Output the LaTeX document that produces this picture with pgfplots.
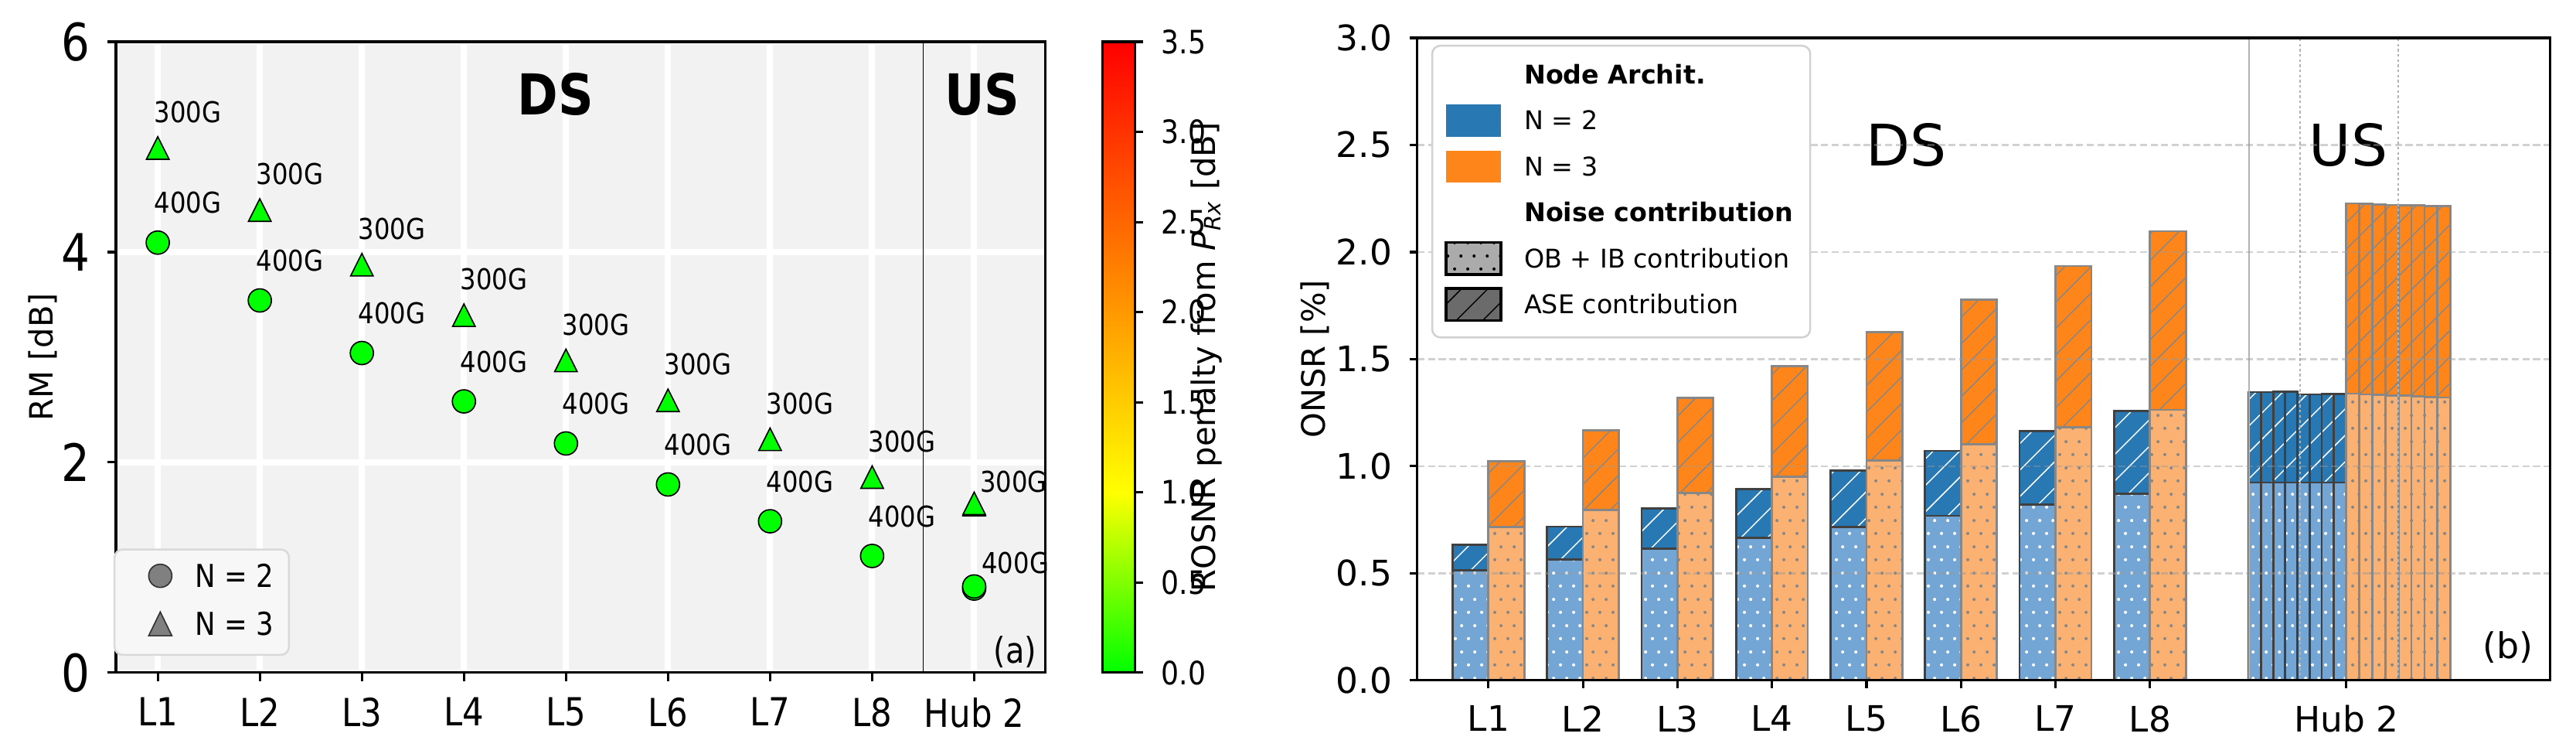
\documentclass[border=0pt]{standalone}
\usepackage{fontspec}
\setmainfont{DejaVu Sans}
\newfontfamily\cond[FakeStretch=0.87]{DejaVu Sans}
\usepackage{pgfplots}
\pgfplotsset{compat=1.18}
\usetikzlibrary{patterns,patterns.meta}

\definecolor{tabblue}{HTML}{2878B4}
\definecolor{lightblue}{HTML}{73A6D4}
\definecolor{taborange}{HTML}{FD851A}
\definecolor{lightorange}{HTML}{FBB171}
\definecolor{blueedge}{HTML}{404040}
\definecolor{orangeedge}{HTML}{878787}
\definecolor{bggray}{HTML}{F2F2F2}
\definecolor{mkgreen}{HTML}{00FF00}

\pgfdeclarepatternformonly{hdots}{\pgfqpoint{0pt}{0pt}}{\pgfqpoint{4.1pt}{8.2pt}}{\pgfqpoint{4.1pt}{8.2pt}}{%
  \pgfpathcircle{\pgfqpoint{1.025pt}{1.025pt}}{0.5pt}%
  \pgfpathcircle{\pgfqpoint{3.075pt}{5.125pt}}{0.5pt}%
  \pgfusepath{fill}}

\pgfplotsset{
  barbase/.style={ybar, bar shift=0pt, forget plot, line width=0.65pt},
  bluetop/.style={barbase, draw=blueedge, preaction={fill=tabblue}, pattern={Lines[angle=45,distance=5.8pt,line width=0.35pt]}, pattern color=white},
  bluelow/.style={barbase, draw=blueedge, preaction={fill=lightblue}, pattern=hdots, pattern color=white},
  orangetop/.style={barbase, draw=orangeedge, preaction={fill=taborange}, pattern={Lines[angle=45,distance=5.8pt,line width=0.35pt]}, pattern color=orangeedge},
  orangelow/.style={barbase, draw=orangeedge, preaction={fill=lightorange}, pattern=hdots, pattern color=orangeedge},
}

\begin{document}
\begin{tikzpicture}
\useasboundingbox (0,0) rectangle (800pt,231.84pt);

% ---------------- (a) ----------------
\begin{axis}[
  at={(36pt,23.04pt)}, anchor=south west,
  scale only axis, width=288.72pt, height=195.84pt,
  xmin=-0.41, xmax=8.70, ymin=0, ymax=6,
  xtick={0,1,2,3,4,5,6,7,8},
  xticklabels={L1,L2,L3,L4,L5,L6,L7,L8,Hub 2},
  ytick={0,2,4,6},
  axis background/.style={fill=bggray},
  grid=major, grid style={white, line width=1.9pt},
  axis line style={line width=0.75pt},
  tick align=outside, tick pos=left, major tick length=2.6pt,
  every tick/.style={black, line width=0.75pt},
  /pgf/number format/assume math mode=true,
  xticklabel style={font=\cond\fontsize{12}{12}\selectfont, inner sep=0pt, anchor=north, yshift=-5pt},
  yticklabel style={font=\cond\fontsize{16}{16}\selectfont, inner sep=0pt, anchor=east, xshift=-5.3pt},
  ylabel={RM [dB]},
  ylabel style={font=\cond\fontsize{13}{13}\selectfont},
  every axis y label/.style={at={(axis description cs:-0.079,0.5)}, anchor=center, rotate=90},
  colormap={gyr}{rgb255(0pt)=(0,255,0); rgb255(10pt)=(255,255,0); rgb255(35pt)=(255,0,0)},
  point meta min=0, point meta max=3.5,
  colorbar,
  colorbar style={
    at={(parent axis.north east)}, anchor=north west, xshift=9.22pt,
    scale only axis, width=10pt, height=195.84pt,
    ytick={0,0.5,1,1.5,2,2.5,3,3.5},
    ytick pos=right, tick align=outside, major tick length=2.4pt,
    axis line style={line width=0.75pt},
    every tick/.style={black, line width=0.75pt},
    yticklabel style={font=\cond\fontsize{10}{10}\selectfont, inner sep=0pt, anchor=west, xshift=5.6pt,
      /pgf/number format/.cd, fixed, fixed zerofill, precision=1, assume math mode=true},
    ylabel={ROSNR penalty from \textit{P}\textsubscript{\textit{Rx}} [dB]},
    ylabel style={font=\cond\fontsize{9.5}{9.5}\selectfont},
    every axis y label/.style={at={(axis description cs:3.22,0.5)}, anchor=center, rotate=90},
  },
  legend style={at={(axis description cs:-0.0025,0.0267)}, anchor=south west,
    draw=black!15, line width=0.6pt, fill=white!97!black, rounded corners=2.5pt,
    inner sep=0pt, nodes={inner sep=0pt},
    font=\cond\fontsize{9.8}{9.8}\selectfont, row sep=-2.9pt,
    /tikz/every odd column/.append style={column sep=0pt}},
  legend cell align=left,
]
\addlegendimage{legend image code/.code={%
  \path[draw=none,fill=none] (0pt,-8.9pt) rectangle (25pt,8.9pt);
  \filldraw[fill=black!50, draw=black!80, line width=0.4pt] (14.2pt,0.73pt) circle[radius=3.6pt];}}
\addlegendentry{N = 2\rule{4.8pt}{0pt}}
\addlegendimage{legend image code/.code={%
  \path[draw=none,fill=none] (0pt,-8.9pt) rectangle (25pt,8.9pt);
  \filldraw[fill=black!50, draw=black!80, line width=0.4pt, sharp corners] (10.6pt,-2.97pt) -- (17.8pt,-2.97pt) -- (14.2pt,4.43pt) -- cycle;}}
\addlegendentry{N = 3\rule{4.8pt}{0pt}}

% DS / US separator
\addplot[forget plot, black, line width=0.3pt] coordinates {(7.5,0) (7.5,6)};

% N = 2 (circles, 400G)
\addplot[forget plot, only marks, mark=*, mark size=3.6pt,
  mark options={fill=mkgreen, draw=black, line width=0.4pt},
  nodes near coords={400G},
  every node near coord/.append style={anchor=west, inner sep=0pt, xshift=-1.3pt, yshift=12.3pt, text=black, font=\cond\fontsize{8.9}{8.9}\selectfont}]
  coordinates {(0,4.09) (1,3.54) (2,3.04) (3,2.58) (4,2.18) (5,1.79) (6,1.44) (7,1.11)};
\addplot[forget plot, only marks, mark=*, mark size=3.6pt,
  mark options={fill=mkgreen, draw=black, line width=0.4pt}]
  coordinates {(8,0.80)};
\addplot[forget plot, only marks, mark=*, mark size=3.6pt,
  mark options={fill=mkgreen, draw=black, line width=0.4pt},
  nodes near coords={400G},
  every node near coord/.append style={anchor=west, inner sep=0pt, xshift=2.2pt, yshift=7.2pt, text=black, font=\cond\fontsize{8.9}{8.9}\selectfont}]
  coordinates {(8,0.82)};

% N = 3 (triangles, 300G)
\addplot[forget plot, only marks, mark=triangle*, mark size=4.04pt,
  mark options={fill=mkgreen, draw=black, line width=0.4pt, yshift=-1.17pt, yscale=1.155},
  nodes near coords={300G},
  every node near coord/.append style={anchor=west, inner sep=0pt, xshift=-1.3pt, yshift=12.3pt, text=black, font=\cond\fontsize{8.9}{8.9}\selectfont}]
  coordinates {(0,4.99) (1,4.40) (2,3.88) (3,3.40) (4,2.97) (5,2.59) (6,2.22) (7,1.86)};
\addplot[forget plot, only marks, mark=triangle*, mark size=4.04pt,
  mark options={fill=mkgreen, draw=black, line width=0.4pt, yshift=-1.17pt, yscale=1.155}]
  coordinates {(8,1.60)};
\addplot[forget plot, only marks, mark=triangle*, mark size=4.04pt,
  mark options={fill=mkgreen, draw=black, line width=0.4pt, yshift=-1.17pt, yscale=1.155},
  nodes near coords={300G},
  every node near coord/.append style={anchor=west, inner sep=0pt, xshift=1.7pt, yshift=7.9pt, text=black, font=\cond\fontsize{8.9}{8.9}\selectfont}]
  coordinates {(8,1.61)};

\node[font=\cond\bfseries\fontsize{17.5}{17.5}\selectfont] at (axis cs:3.9,5.5) {DS};
\node[font=\cond\bfseries\fontsize{17.5}{17.5}\selectfont] at (axis cs:8.08,5.5) {US};
\node[font=\cond\fontsize{11}{11}\selectfont] at (axis cs:8.40,0.2) {(a)};
\end{axis}

% ---------------- (b) ----------------
\begin{axis}[
  at={(440.16pt,20.64pt)}, anchor=south west,
  scale only axis, width=351.84pt, height=199.44pt,
  xmin=-0.752, xmax=11.235, ymin=0, ymax=3,
  xtick={0,1,2,3,4,5,6,7,9.076},
  xticklabels={L1,L2,L3,L4,L5,L6,L7,L8,Hub 2},
  ytick={0,0.5,1,1.5,2,2.5,3},
  ymajorgrids,
  grid style={color=black!40, opacity=0.45, line width=0.55pt, dash pattern=on 2.2pt off 1.1pt},
  axis on top,
  axis line style={line width=0.75pt},
  tick align=outside, tick pos=left, major tick length=2.4pt,
  every tick/.style={black, line width=0.75pt},
  /pgf/number format/assume math mode=true,
  xticklabel style={font=\fontsize{10.9}{10.9}\selectfont, inner sep=0pt, anchor=north, yshift=-5.2pt},
  yticklabel style={font=\fontsize{10.9}{10.9}\selectfont, inner sep=0pt, anchor=east, xshift=-5.3pt,
    /pgf/number format/.cd, fixed, fixed zerofill, precision=1},
  ylabel={ONSR [\%]},
  ylabel style={font=\fontsize{11.5}{11.5}\selectfont},
  every axis y label/.style={at={(axis description cs:-0.0904,0.5)}, anchor=center, rotate=90},
  legend style={at={(axis description cs:0.0123,0.9892)}, anchor=north west,
    draw=black!18, line width=0.6pt, fill=white, rounded corners=2.5pt,
    inner sep=0pt, nodes={inner sep=0pt},
    font=\fontsize{8}{8}\selectfont, row sep=-4.94pt,
    /tikz/every odd column/.append style={column sep=0pt}},
  legend cell align=left,
]
\addlegendimage{legend image code/.code={\path[draw=none,fill=none] (0pt,-9.6pt) rectangle (28.56pt,9.6pt);}}
\addlegendentry{\textbf{Node Archit.}}
\addlegendimage{legend image code/.code={\path[draw=none,fill=none] (0pt,-9.6pt) rectangle (28.56pt,9.6pt);
  \fill[tabblue, draw=none, sharp corners] (4.32pt,-4.4pt) rectangle (21.36pt,5.6pt);}}
\addlegendentry{N = 2}
\addlegendimage{legend image code/.code={\path[draw=none,fill=none] (0pt,-9.6pt) rectangle (28.56pt,9.6pt);
  \fill[taborange, draw=none, sharp corners] (4.32pt,-4.4pt) rectangle (21.36pt,5.6pt);}}
\addlegendentry{N = 3}
\addlegendimage{legend image code/.code={\path[draw=none,fill=none] (0pt,-9.6pt) rectangle (28.56pt,9.6pt);}}
\addlegendentry{\textbf{Noise contribution}\rule{5.3pt}{0pt}}
\addlegendimage{legend image code/.code={\path[draw=none,fill=none] (0pt,-9.6pt) rectangle (28.56pt,9.6pt);
  \fill[black!33, draw=none, sharp corners] (4.32pt,-4.4pt) rectangle (21.36pt,5.6pt);
  \fill[pattern=hdots, pattern color=black, draw=none, sharp corners] (4.32pt,-4.4pt) rectangle (21.36pt,5.6pt);
  \draw[line width=0.86pt, black, fill=none, sharp corners] (4.32pt,-4.4pt) rectangle (21.36pt,5.6pt);}}
\addlegendentry{OB + IB contribution}
\addlegendimage{legend image code/.code={\path[draw=none,fill=none] (0pt,-9.6pt) rectangle (28.56pt,9.6pt);
  \fill[black!58, draw=none, sharp corners] (4.32pt,-4.4pt) rectangle (21.36pt,5.6pt);
  \fill[pattern={Lines[angle=45,distance=5.8pt,line width=0.35pt]}, pattern color=black, draw=none, sharp corners] (4.32pt,-4.4pt) rectangle (21.36pt,5.6pt);
  \draw[line width=0.86pt, black, fill=none, sharp corners] (4.32pt,-4.4pt) rectangle (21.36pt,5.6pt);}}
\addlegendentry{ASE contribution}

% N = 2 (blue): total then OB+IB part
\addplot[bluetop, bar width=0.38] coordinates {(-0.19,0.634) (0.81,0.718) (1.81,0.803) (2.81,0.892) (3.81,0.980) (4.81,1.072) (5.81,1.163) (6.81,1.259)};
\addplot[bluelow, bar width=0.38] coordinates {(-0.19,0.514) (0.81,0.565) (1.81,0.616) (2.81,0.667) (3.81,0.716) (4.81,0.769) (5.81,0.821) (6.81,0.872)};
% N = 3 (orange)
\addplot[orangetop, bar width=0.38] coordinates {(0.19,1.023) (1.19,1.167) (2.19,1.319) (3.19,1.468) (4.19,1.625) (5.19,1.779) (6.19,1.935) (7.19,2.097)};
\addplot[orangelow, bar width=0.38] coordinates {(0.19,0.716) (1.19,0.796) (2.19,0.874) (3.19,0.952) (4.19,1.026) (5.19,1.103) (6.19,1.183) (7.19,1.263)};
% Hub 2
\addplot[bluetop, bar width=0.1285] coordinates {(8.110,1.346) (8.239,1.346) (8.367,1.347) (8.496,1.349) (8.624,1.336) (8.753,1.336) (8.881,1.338) (9.010,1.338)};
\addplot[bluelow, bar width=0.1285] coordinates {(8.110,0.924) (8.239,0.924) (8.367,0.924) (8.496,0.924) (8.624,0.924) (8.753,0.924) (8.881,0.924) (9.010,0.924)};
\addplot[orangetop, bar width=0.138] coordinates {(9.145,2.227) (9.283,2.226) (9.421,2.222) (9.559,2.220) (9.697,2.219) (9.835,2.217) (9.973,2.215) (10.111,2.214)};
\addplot[orangelow, bar width=0.138] coordinates {(9.145,1.339) (9.283,1.336) (9.421,1.333) (9.559,1.331) (9.697,1.329) (9.835,1.326) (9.973,1.323) (10.111,1.321)};

% separators
\addplot[forget plot, color=black!30, line width=0.5pt] coordinates {(8.046,0) (8.046,3)};
\addplot[forget plot, color=black!30, line width=0.55pt, dash pattern=on 0.8pt off 0.8pt] coordinates {(8.585,0) (8.585,3)};
\addplot[forget plot, color=black!30, line width=0.55pt, dash pattern=on 0.8pt off 0.8pt] coordinates {(9.624,0) (9.624,3)};

\node[font=\fontsize{17.8}{17.8}\selectfont] at (axis cs:4.42,2.5) {DS};
\node[font=\fontsize{17.8}{17.8}\selectfont] at (axis cs:9.1,2.5) {US};
\node[font=\fontsize{11}{11}\selectfont] at (axis cs:10.79,0.155) {(b)};
\end{axis}
\end{tikzpicture}
\end{document}
